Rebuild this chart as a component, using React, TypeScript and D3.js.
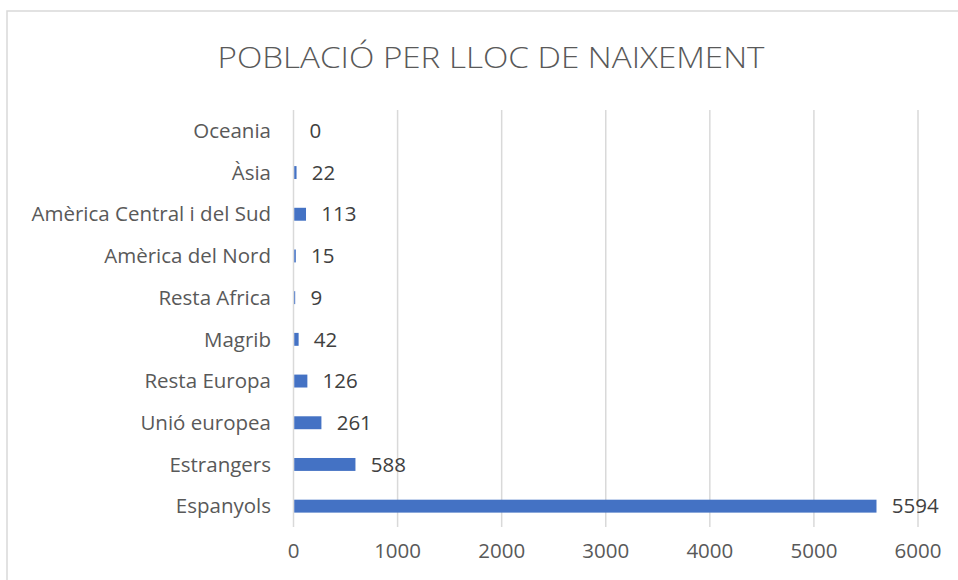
import React, { useEffect, useRef } from "react";
import * as d3 from "d3";

const categories = [
  "Oceania",
  "Àsia",
  "Amèrica Central i del Sud",
  "Amèrica del Nord",
  "Resta Africa",
  "Magrib",
  "Resta Europa",
  "Unió europea",
  "Estrangers",
  "Espanyols",
];
const values = [0, 22, 113, 15, 9, 42, 126, 261, 588, 5594];
const xTicks = [0, 1000, 2000, 3000, 4000, 5000, 6000];
const title = "POBLACIÓ PER LLOC DE NAIXEMENT";

export default function App() {
  const ref = useRef<SVGSVGElement>(null);

  useEffect(() => {
    const width = 958;
    const height = 580;
    const margin = { top: 110, right: 40, bottom: 53, left: 293.5 };
    const font = "'Open Sans', 'Noto Sans', sans-serif";

    const svg = d3.select(ref.current);
    svg.selectAll("*").remove();

    // chart frame
    svg
      .append("rect")
      .attr("x", 7)
      .attr("y", 11)
      .attr("width", 1000)
      .attr("height", 1000)
      .attr("fill", "white")
      .attr("stroke", "#d9d9d9")
      .attr("stroke-width", 1.5);

    svg
      .append("text")
      .attr("x", 491)
      .attr("y", 68)
      .attr("text-anchor", "middle")
      .attr("font-family", font)
      .attr("font-weight", 300)
      .attr("font-size", 30)
      .attr("fill", "#595959")
      .attr("textLength", 547)
      .attr("lengthAdjust", "spacingAndGlyphs")
      .text(title);

    const xScale = d3
      .scaleLinear()
      .domain([0, 6000])
      .range([margin.left, 918]);

    const yScale = d3
      .scaleBand()
      .domain(categories)
      .range([margin.top, height - margin.bottom])
      .paddingInner(0.69)
      .paddingOuter(0.345);

    // gridlines
    svg
      .append("g")
      .selectAll("line")
      .data(xTicks)
      .join("line")
      .attr("x1", (d) => xScale(d))
      .attr("x2", (d) => xScale(d))
      .attr("y1", margin.top)
      .attr("y2", height - margin.bottom)
      .attr("stroke", "#d9d9d9")
      .attr("stroke-width", 1.5);

    // tick labels
    svg
      .append("g")
      .selectAll("text")
      .data(xTicks)
      .join("text")
      .attr("x", (d) => xScale(d))
      .attr("y", 558)
      .attr("text-anchor", "middle")
      .attr("font-family", font)
      .attr("font-size", 20.5)
      .attr("fill", "#595959")
      .text((d) => d);

    // category labels
    const band = (height - margin.bottom - margin.top) / categories.length;
    svg
      .append("g")
      .selectAll("text")
      .data(categories)
      .join("text")
      .attr("x", 271)
      .attr("y", (d, i) => margin.top + band * (i + 0.5))
      .attr("dy", "0.35em")
      .attr("text-anchor", "end")
      .attr("font-family", font)
      .attr("font-size", 20.5)
      .attr("fill", "#595959")
      .text((d) => d);

    // bars
    svg
      .append("g")
      .selectAll("rect")
      .data(values)
      .join("rect")
      .attr("x", xScale(0) + 0.75)
      .attr("y", (d, i) => yScale(categories[i]) as number)
      .attr("width", (d) => Math.max(0, xScale(d) - xScale(0)))
      .attr("height", yScale.bandwidth())
      .attr("fill", "#4472c4");

    // value labels
    svg
      .append("g")
      .selectAll("text")
      .data(values)
      .join("text")
      .attr("x", (d) => xScale(d) + 16)
      .attr("y", (d, i) => margin.top + band * (i + 0.5))
      .attr("dy", "0.35em")
      .attr("font-family", font)
      .attr("font-size", 20.5)
      .attr("fill", "#404040")
      .text((d) => d);
  }, []);

  return (
    <svg
      ref={ref}
      width={958}
      height={580}
      style={{ position: "absolute", left: 0, top: 0, background: "white" }}
    />
  );
}
